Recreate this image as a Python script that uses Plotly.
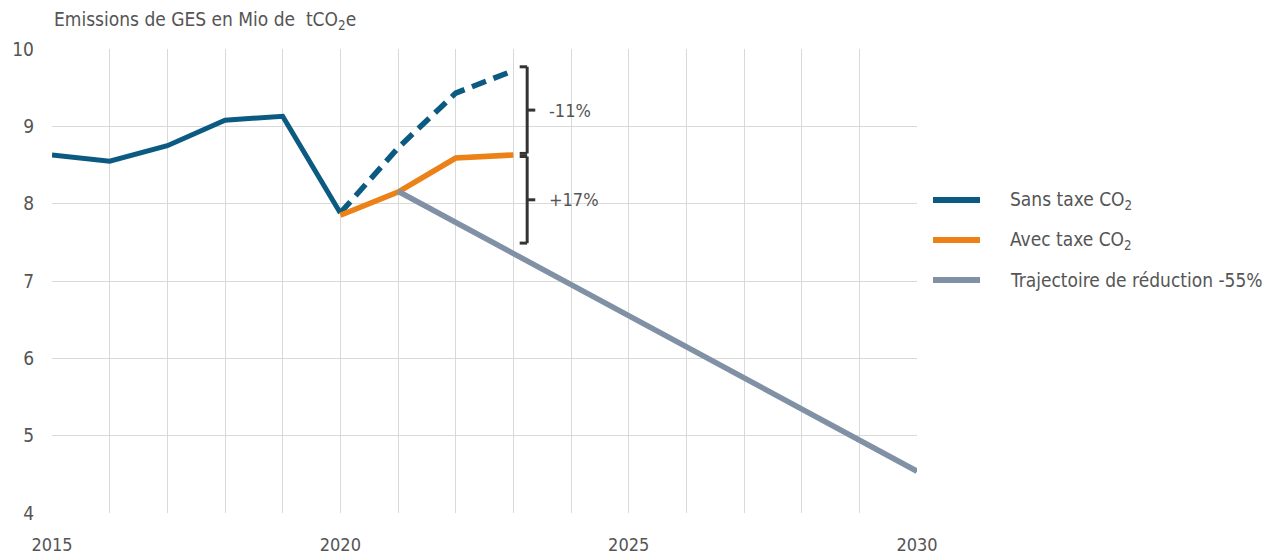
import plotly.graph_objects as go

years_hist = [2015, 2016, 2017, 2018, 2019, 2020]
sans_hist = [8.63, 8.55, 8.75, 9.08, 9.13, 7.88]
years_proj = [2020, 2021, 2022, 2023]
sans_proj = [7.88, 8.72, 9.43, 9.72]
avec_proj = [7.85, 8.15, 8.59, 8.63]
years_traj = [2021, 2030]
traj = [8.16, 4.54]
bracket_top = 9.77
bracket_low = 7.49
labels_pct = ["-11%", "+17%"]
x_ticks = [2015, 2020, 2025, 2030]
legend_names = ["Sans taxe CO<sub>2</sub>", "Avec taxe CO<sub>2</sub>", "Trajectoire de réduction -55%"]

BLUE = "#0b5a82"
ORANGE = "#ec8118"
GREY = "#8091a6"
FONT = "DejaVu Sans Condensed, Roboto, sans-serif"
TXT = "#555555"
FS = 19

fig = go.Figure()
fig.add_trace(go.Scatter(x=years_hist, y=sans_hist, mode="lines", name=legend_names[0],
                         line=dict(color=BLUE, width=5), showlegend=False))
fig.add_trace(go.Scatter(x=years_proj, y=sans_proj, mode="lines", showlegend=False,
                         line=dict(color=BLUE, width=5.5, dash="15px,8px")))
fig.add_trace(go.Scatter(x=years_proj, y=avec_proj, mode="lines", name=legend_names[1],
                         line=dict(color=ORANGE, width=5.5), showlegend=False))
fig.add_trace(go.Scatter(x=years_traj, y=traj, mode="lines", name=legend_names[2],
                         line=dict(color=GREY, width=5.5), showlegend=False))

# brackets
bx = 2023.24
bw = 0.13
mid = avec_proj[-1]
segs = [(bracket_top, mid + 0.02), (mid - 0.02, bracket_low)]
c = "#333333"
for (y0, y1), lab in zip(segs, labels_pct):
    fig.add_shape(type="line", x0=bx, x1=bx, y0=y0, y1=y1, line=dict(color=c, width=3))
    fig.add_shape(type="line", x0=bx - bw, x1=bx, y0=y0, y1=y0, line=dict(color=c, width=3))
    fig.add_shape(type="line", x0=bx - bw, x1=bx, y0=y1, y1=y1, line=dict(color=c, width=3))
    ym = (y0 + y1) / 2
    fig.add_shape(type="line", x0=bx, x1=bx + 0.14, y0=ym, y1=ym, line=dict(color=c, width=3))
    fig.add_annotation(x=bx + 0.34, y=ym, text=lab, showarrow=False, xanchor="left",
                       font=dict(family=FONT, size=FS - 1, color=TXT))

# manual legend (paper coords): plot spans x 52..917 px, y 49..513 px
def px_x(p):
    return (p - 52) / 865.0

def px_y(p):
    return (513 - p) / 464.0

leg_colors = [BLUE, ORANGE, GREY]
leg_y = [200, 240, 280]
for name, col, yy in zip(legend_names, leg_colors, leg_y):
    fig.add_shape(type="line", xref="paper", yref="paper", x0=px_x(933), x1=px_x(980),
                  y0=px_y(yy), y1=px_y(yy), line=dict(color=col, width=6))
    fig.add_annotation(xref="paper", yref="paper", x=px_x(1008), y=px_y(yy), xanchor="left",
                       yanchor="middle", text=name, showarrow=False,
                       font=dict(family=FONT, size=FS, color=TXT))

fig.add_annotation(xref="paper", yref="paper", x=0, y=px_y(20), xanchor="left", yanchor="middle",
                   text="Emissions de GES en Mio de  tCO<sub>2</sub>e", showarrow=False,
                   font=dict(family=FONT, size=FS, color=TXT))

fig.update_layout(
    width=1276, height=555,
    margin=dict(l=44, r=367, t=41, b=50),
    plot_bgcolor="white", paper_bgcolor="white",
    font=dict(family=FONT, color=TXT),
    showlegend=False,
    xaxis=dict(range=[2015, 2030], tickvals=x_ticks, showgrid=True, gridcolor="#d9d9d9",
               gridwidth=1, zeroline=False, showline=False, ticks="", automargin=False,
               tickfont=dict(family=FONT, size=FS - 1, color=TXT), ticklabelstandoff=19,
               minor=dict(dtick=1, showgrid=True, gridcolor="#d9d9d9", gridwidth=1)),
    yaxis=dict(range=[4, 10], dtick=1, showgrid=True, gridcolor="#d9d9d9", gridwidth=1,
               zeroline=False, showline=False, ticks="", automargin=False,
               tickfont=dict(family=FONT, size=FS, color=TXT), ticklabelstandoff=17),
)
fig.write_html("out.html")
